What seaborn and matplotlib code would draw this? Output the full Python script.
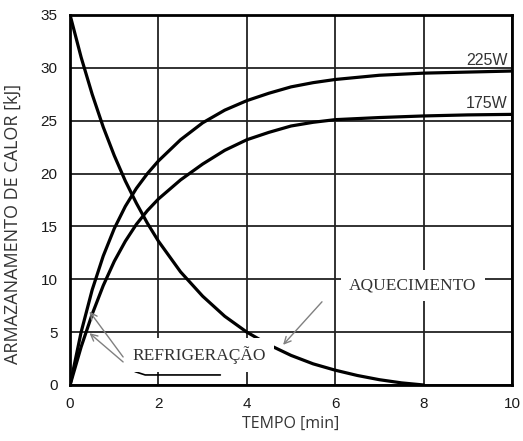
import numpy as np
import pandas as pd
import matplotlib
matplotlib.use("Agg")
import matplotlib.pyplot as plt
import seaborn as sns

# curves
tempo = [0, 0.25, 0.5, 0.75, 1.0, 1.25, 1.5, 1.75, 2.0, 2.5, 3.0, 3.5, 4.0, 4.5,
         5.0, 5.5, 6.0, 7.0, 8.0, 9.0, 10.0]
calor_225w = [0, 5.0, 9.0, 12.2, 14.8, 16.9, 18.6, 20.0, 21.2, 23.2, 24.8, 26.0, 26.9, 27.6,
              28.2, 28.6, 28.9, 29.3, 29.5, 29.6, 29.7]
calor_175w = [0, 3.6, 6.7, 9.4, 11.7, 13.6, 15.2, 16.5, 17.6, 19.4, 20.9, 22.2, 23.2, 23.9,
              24.5, 24.85, 25.1, 25.3, 25.45, 25.55, 25.6]

tempo_frio = [0, 0.25, 0.5, 0.75, 1.0, 1.25, 1.5, 1.75, 2.0, 2.5, 3.0, 3.5, 4.0, 4.5,
              5.0, 5.5, 6.0, 6.5, 7.0, 7.5, 8.0]
calor_frio = [35, 31.0, 27.5, 24.4, 21.7, 19.3, 17.2, 15.3, 13.6, 10.7, 8.4, 6.5, 5.0, 3.8,
              2.8, 2.0, 1.4, 0.9, 0.5, 0.2, 0.0]

# stray stroke under the REFRIGERACAO label in the scan
risco_x = [1.47, 1.70, 3.40]
risco_y = [1.26, 0.95, 0.95]

x_ticks = [0, 2, 4, 6, 8, 10]
y_ticks = [0, 5, 10, 15, 20, 25, 30, 35]

df_quente = pd.DataFrame({"tempo": tempo, "225W": calor_225w, "175W": calor_175w})
df_frio = pd.DataFrame({"tempo": tempo_frio, "calor": calor_frio})

sns.set_style("white")
plt.rcParams["font.family"] = ["Liberation Sans", "DejaVu Sans"]

fig = plt.figure(figsize=(5.23, 4.41), dpi=100)
ax = fig.add_axes([0.134, 0.127, 0.845, 0.839])

sns.lineplot(data=df_quente, x="tempo", y="225W", color="black", lw=2.3, ax=ax)
sns.lineplot(data=df_quente, x="tempo", y="175W", color="black", lw=2.3, ax=ax)
sns.lineplot(data=df_frio, x="tempo", y="calor", color="black", lw=2.3, ax=ax)
ax.plot(risco_x, risco_y, color="black", lw=1.2)

ax.set_xlim(0, 10)
ax.set_ylim(0, 35)
ax.set_xticks(x_ticks)
ax.set_yticks(y_ticks)
ax.grid(True, color="#222222", lw=1.3)
ax.set_axisbelow(True)
for s in ax.spines.values():
    s.set_color("black")
    s.set_linewidth(2)
ax.tick_params(axis="x", length=0, pad=9, labelsize=11, labelcolor="#1a1a1a")
ax.tick_params(axis="y", length=0, pad=9, labelsize=11, labelcolor="#1a1a1a")

ax.set_xlabel("TEMPO [min]", fontsize=11.5, family=["Open Sans", "DejaVu Sans"],
              color="#333333", labelpad=3)
ax.set_ylabel("ARMAZANAMENTO DE CALOR [kJ]", fontsize=13, family=["Open Sans", "DejaVu Sans"],
              color="#333333")
ax.yaxis.set_label_coords(-0.11, 0.435)

ax.text(9.9, 30.0, "225W", ha="right", va="bottom", fontsize=11.5, color="#333333")
ax.text(9.9, 25.9, "175W", ha="right", va="bottom", fontsize=11.5, color="#333333")

seta = dict(arrowstyle="->", color="#808080", lw=1, mutation_scale=12, shrinkA=0, shrinkB=0)
serif = ["Liberation Serif", "DejaVu Serif"]
caixa = dict(boxstyle="square,pad=0.45", facecolor="white", edgecolor="none")

ax.annotate("", xy=(4.82, 3.8), xytext=(5.70, 7.87), arrowprops=seta)
ax.text(7.76, 9.4, "AQUECIMENTO", ha="center", va="center", fontsize=12.5,
        family=serif, color="#333333", bbox=caixa, zorder=4)

ax.annotate("", xy=(0.44, 6.95), xytext=(1.20, 2.65), arrowprops=seta)
ax.annotate("", xy=(0.44, 4.9), xytext=(1.20, 2.18), arrowprops=seta)
ax.text(2.92, 2.84, "REFRIGERAÇÃO", ha="center", va="center", fontsize=12.5,
        family=serif, color="#333333", bbox=caixa, zorder=4)

fig.savefig("out.png", dpi=100)
